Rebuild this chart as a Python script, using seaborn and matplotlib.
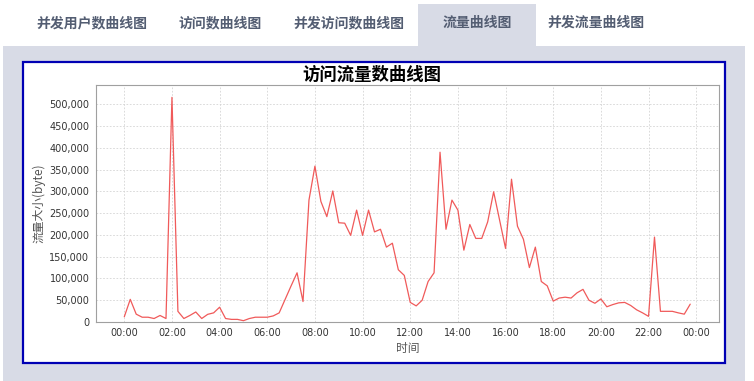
import matplotlib
matplotlib.use("Agg")
import matplotlib.pyplot as plt
import matplotlib.patches as patches
import matplotlib.ticker as ticker
import seaborn as sns
import pandas as pd

W, H = 754, 381

TABS = ["并发用户数曲线图", "访问数曲线图", "并发访问数曲线图", "流量曲线图", "并发流量曲线图"]
TAB_CENTERS = [92, 220, 349, 477, 596]

# traffic every 15 minutes, 00:00 .. 23:45
TRAFFIC = [
    12000, 52000, 18000, 11000, 11000, 8000, 15000, 8000,
    516000, 24500, 8000, 15000, 23000, 8000, 17600, 21000,
    34000, 8000, 6000, 6000, 3000, 8000, 11000, 11000,
    11000, 14000, 21000, 52000, 83000, 113000, 47000, 280000,
    358000, 277000, 242000, 301000, 228000, 227000, 199000, 257000,
    199000, 257000, 207000, 213000, 172000, 181000, 120000, 107000,
    45000, 37000, 50000, 93000, 113000, 390000, 213000, 280000,
    257000, 165000, 224000, 192000, 192000, 230000, 299000, 234000,
    169000, 328000, 220000, 190000, 125000, 172000, 93000, 83000,
    48000, 55000, 57000, 55000, 67000, 75000, 50000, 43000,
    53000, 35000, 40000, 44000, 45000, 38000, 28000, 21000,
    13000, 195000, 24500, 24500, 24500, 21000, 18000, 41000,
]
HOURS = [i * 0.25 for i in range(len(TRAFFIC))]
X_TICKS = list(range(0, 25, 2))
X_LABELS = [f"{h % 24:02d}:00" for h in X_TICKS]
Y_TICKS = list(range(0, 500001, 50000))

sns.set_style("white")
plt.rcParams["font.family"] = ["DejaVu Sans", "Noto Sans CJK SC"]

fig = plt.figure(figsize=(W / 100, H / 100), dpi=100)
fig.patch.set_facecolor("white")


def rect(x0, y0, x1, y1, **kw):
    # pixel box (top-left origin) -> figure fraction rectangle
    return patches.Rectangle((x0 / W, 1 - y1 / H), (x1 - x0) / W, (y1 - y0) / H,
                             transform=fig.transFigure, zorder=-5, **kw)


panel = "#d8dbe6"
fig.patches.append(rect(3, 46, 745, 381, facecolor=panel, edgecolor="none"))
fig.patches.append(rect(418, 4, 536, 47, facecolor=panel, edgecolor="none"))
fig.patches.append(rect(22.5, 62, 724.5, 363, facecolor="white", edgecolor="#0000b4", linewidth=1.6))

for label, cx in zip(TABS, TAB_CENTERS):
    fig.text(cx / W, 1 - 23 / H, label, ha="center", va="center", fontsize=10,
             fontweight="bold", color="#535d72", family=["Noto Sans CJK SC"])

fig.text(372 / W, 1 - 75 / H, "访问流量数曲线图", ha="center", va="center", fontsize=12.5,
         fontweight="bold", color="black", family=["Noto Sans CJK SC"])

ax = fig.add_axes([95.7 / W, 1 - 322 / H, (719.3 - 95.7) / W, (322 - 85.3) / H])
df = pd.DataFrame({"hour": HOURS, "traffic": TRAFFIC})
sns.lineplot(data=df, x="hour", y="traffic", ax=ax, color="#f05a5a", linewidth=0.9)

ax.set_xlim(-1.2, 24.97)
ax.set_ylim(0, 543700)
ax.set_xticks(X_TICKS)
ax.set_xticklabels(X_LABELS)
ax.set_yticks(Y_TICKS)
ax.yaxis.set_major_formatter(ticker.FuncFormatter(lambda v, p: f"{int(v):,}"))
ax.tick_params(axis="both", labelsize=7, colors="#333333", length=2.5, width=0.6,
               direction="out", pad=2)
ax.tick_params(axis="both", color="#888888")
ax.grid(True, color="#d4d4d4", linestyle=(0, (2, 2)), linewidth=0.6)
for side, sp in ax.spines.items():
    sp.set_color("#a0a0a0")
    sp.set_linewidth(0.8)
ax.set_xlabel("时间", fontsize=8.5, color="#555555", labelpad=3, family=["Noto Sans CJK SC"])
ax.set_ylabel("流量大小(byte)", fontsize=8.5, color="#555555", labelpad=3,
              family=["Noto Sans CJK SC", "DejaVu Sans"])

fig.savefig("out.png", dpi=100)
